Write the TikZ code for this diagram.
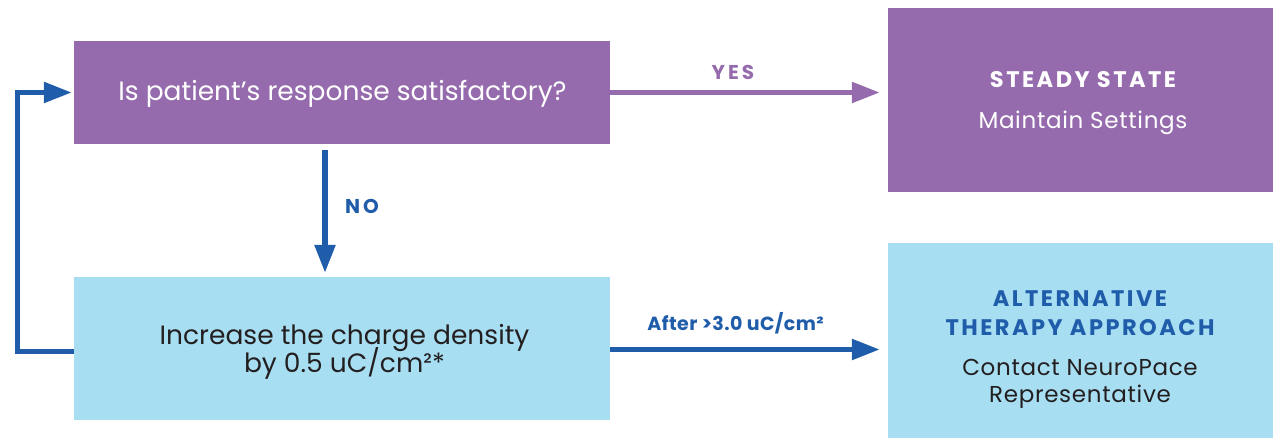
\documentclass[tikz,border=0pt]{standalone}
\usepackage{fontspec}
\setmainfont{Poppins}
\usetikzlibrary{arrows.meta}
\definecolor{purp}{HTML}{956BAD}
\definecolor{lblue}{HTML}{A8DEF2}
\definecolor{dblue}{HTML}{1F5CAA}
\definecolor{ink}{HTML}{231F20}
\begin{document}
\begin{tikzpicture}[x=1pt,y=-1pt,
  pbox/.style={fill=purp,draw=none,inner sep=0pt},
  bbox/.style={fill=lblue,draw=none,inner sep=0pt},
  main/.style={font=\fontsize{26.5}{30}\selectfont,inner sep=0pt,anchor=base},
  body/.style={font=\fontsize{23}{28}\selectfont\addfontfeatures{LetterSpace=3},inner sep=0pt,anchor=base},
  head/.style={font=\fontsize{22.5}{28}\selectfont\bfseries\addfontfeatures{LetterSpace=11},inner sep=0pt,anchor=base},
  lbl/.style={font=\fontsize{20}{22}\selectfont\bfseries\addfontfeatures{LetterSpace=15},inner sep=0pt,anchor=base},
  lbls/.style={font=\fontsize{19}{22}\selectfont\bfseries\addfontfeatures{LetterSpace=2},inner sep=0pt,anchor=base},
  arr/.style={line width=5.5pt,-{Triangle[length=28pt,width=20pt]}}]
\useasboundingbox (0,0) rectangle (1273,438);
\node[pbox,minimum width=536pt,minimum height=103pt] (A) at (342,92.5) {};
\node[pbox,minimum width=385pt,minimum height=184pt] (B) at (1080.5,100) {};
\node[bbox,minimum width=536pt,minimum height=143pt] (C) at (342,348.5) {};
\node[bbox,minimum width=385pt,minimum height=195pt] (D) at (1080.5,340.5) {};
% texts
\node[main,text=white] (tA) at (342.5,101) {Is patient’s response satisfactory?};
\node[head,text=white] (tB1) at (1083,87.7) {STEADY STATE};
\node[body,text=white] (tB2) at (1083,128.3) {Maintain Settings};
\node[main,text=ink] (tC1) at (344.5,344) {Increase the charge density};
\node[main,text=ink] (tC2) at (344.5,372.7) {by 0.5 uC/cm²*};
\node[head,text=dblue] (tD1) at (1080,306.7) {ALTERNATIVE};
\node[head,text=dblue] (tD2) at (1080,335) {THERAPY APPROACH};
\node[body,text=ink] (tD3) at (1080,375) {Contact NeuroPace};
\node[body,text=ink] (tD4) at (1080,402.7) {Representative};
% connectors
\coordinate (ce) at ([yshift=-1pt]C.east);
\draw[arr,purp,shorten >=8pt] (A.east) -- (B.west |- A.east);
\node[lbl,text=purp] (yes) at (733,79.3) {YES};
\draw[arr,dblue,shorten <=6pt,shorten >=4pt] ([xshift=-17pt]A.south) -- ([xshift=-17pt]C.north);
\node[lbl,text=dblue] (no) at (362,213.3) {NO};
\draw[arr,dblue,shorten >=8pt] (ce) -- (D.west |- ce);
\node[lbls,text=dblue] (after) at (735.5,330) {After >3.0 uC/cm²};
\draw[arr,dblue,line join=miter,shorten >=2pt] ([yshift=-3pt]C.west) -- ++(-56.5,0) |- (A.west);
\end{tikzpicture}
\end{document}
